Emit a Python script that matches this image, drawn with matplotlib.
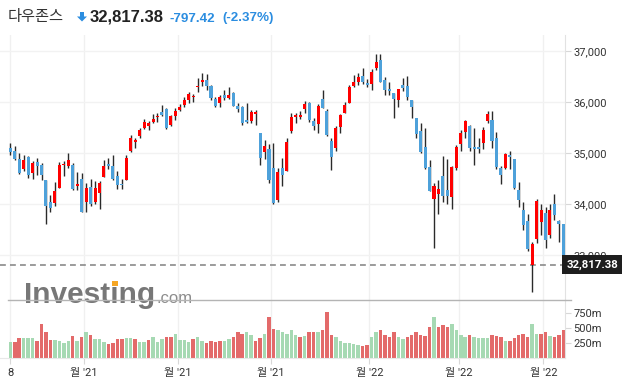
import numpy as np
import pandas as pd
import matplotlib
matplotlib.use("Agg")
import matplotlib.pyplot as plt
from matplotlib.patches import Polygon, Rectangle
from matplotlib.lines import Line2D

plt.rcParams['font.family'] = ['Roboto', 'Noto Sans CJK KR', 'DejaVu Sans']

# daily candles, 2021-09-08 .. 2022-03-07 (NYSE holidays skipped)
holidays = ["2021-11-25", "2021-12-24", "2022-01-17", "2022-02-21"]
days = pd.bdate_range("2021-09-08", "2022-03-07", freq="C", holidays=holidays)

opens = [35100, 35045, 34890, 34686, 34922, 34608, 34830, 34770, 34477, 34045,
         34031, 34325, 34771, 34751, 34770, 34365, 34490, 34039, 34345, 34039,
         34227, 34530, 34790, 34751, 34547, 34390, 34480, 35050, 35220, 35339,
         35502, 35541, 35620, 35718, 35816, 35863, 35555, 35731, 35849, 35947,
         36045, 36098, 36294, 36404, 36437, 36320, 36059, 35992, 36143, 36090,
         36188, 35927, 35914, 35653, 35633, 35776, 35398, 35032, 35084, 34718,
         34090, 34718, 34660, 35443, 35718, 35718, 35869, 35986, 35633, 35569,
         36065, 35829, 35241, 35098, 35522, 35796, 35980, 36326, 36398, 36516,
         36378, 36353, 36667, 36829, 36437, 36261, 36182, 36045, 36339, 36320,
         36045, 35692, 35437, 35118, 34725, 34098, 34208, 34555, 34280, 34150,
         34718, 35176, 35412, 35535, 35118, 35118, 35196, 35639, 35653, 35294,
         34706, 34706, 34967, 34888, 34280, 33888, 33667, 32810, 33313, 33659,
         33824, 33398, 34000, 33673, 33614]
highs = [35200, 35150, 35000, 34960, 34940, 34840, 34900, 34800, 34477, 34190,
         34430, 34820, 34840, 35000, 34800, 34640, 34620, 34420, 34490, 34450,
         34450, 34870, 34900, 34960, 34650, 34500, 34960, 35350, 35300, 35500,
         35670, 35640, 35770, 35800, 35950, 35890, 35760, 35890, 35960, 36100,
         36200, 36170, 36480, 36565, 36550, 36340, 36100, 36140, 36250, 36300,
         36200, 35990, 35920, 35990, 35850, 35840, 35398, 35260, 35180, 35200,
         34720, 34900, 35300, 35800, 35800, 35830, 36020, 36000, 35700, 35960,
         36250, 35860, 35300, 35530, 35780, 36000, 36330, 36530, 36570, 36680,
         36450, 36650, 36952, 36950, 36500, 36400, 36190, 36270, 36470, 36510,
         36050, 35692, 35600, 35500, 34870, 34420, 34470, 34950, 34880, 34750,
         35170, 35450, 35650, 35560, 35500, 35300, 35520, 35830, 35830, 35420,
         34750, 35000, 35040, 34888, 34440, 34050, 33800, 33260, 34100, 34000,
         33950, 34000, 34196, 33700, 33620]
lows = [34967, 34870, 34590, 34660, 34520, 34500, 34580, 34470, 33613, 33840,
        33960, 34325, 34560, 34720, 34280, 34280, 33840, 33850, 33960, 34000,
        33900, 34530, 34700, 34480, 34300, 34300, 34480, 35020, 35100, 35300,
        35480, 35450, 35600, 35620, 35740, 35480, 35540, 35650, 35830, 35900,
        35980, 36000, 36200, 36320, 36250, 36050, 35900, 35900, 36050, 36060,
        35920, 35810, 35550, 35600, 35600, 35550, 34770, 34880, 34420, 34006,
        34050, 34350, 34660, 35400, 35600, 35680, 35800, 35620, 35450, 35400,
        35880, 35330, 34680, 35050, 35400, 35790, 35980, 36300, 36340, 36360,
        36300, 36250, 36640, 36400, 36150, 36150, 35687, 35900, 36230, 36050,
        35700, 35300, 35000, 34690, 34260, 33150, 33800, 34050, 34000, 33900,
        34670, 35050, 35300, 35050, 34780, 35000, 35080, 35600, 35100, 34700,
        34400, 34700, 34700, 34300, 33950, 33500, 33080, 32272, 33250, 33400,
        33140, 33340, 33700, 33267, 32800]
closes = [35031, 34879, 34607, 34869, 34577, 34814, 34751, 34584, 33970, 33919,
          34258, 34765, 34798, 34869, 34299, 34390, 33844, 34326, 34002, 34315,
          34417, 34755, 34746, 34496, 34378, 34377, 34912, 35295, 35259, 35458,
          35609, 35603, 35677, 35741, 35757, 35491, 35731, 35820, 35913, 36053,
          36158, 36124, 36328, 36432, 36320, 36080, 35921, 36100, 36087, 36142,
          35931, 35871, 35602, 35619, 35814, 35804, 34899, 35136, 34484, 34022,
          34640, 34580, 35227, 35719, 35754, 35754, 35971, 35650, 35544, 35927,
          35898, 35365, 34932, 35493, 35754, 35950, 36302, 36398, 36488, 36398,
          36338, 36585, 36799, 36407, 36236, 36231, 36068, 36252, 36290, 36113,
          35912, 35369, 35029, 34715, 34265, 34365, 34298, 34168, 34160, 34725,
          35132, 35405, 35629, 35111, 35089, 35091, 35463, 35768, 35241, 34738,
          34566, 34989, 34935, 34312, 34079, 33597, 33132, 33224, 34058, 33893,
          33295, 33891, 33795, 33615, 32817.38]
# volume in millions
volumes = [260, 260, 326, 326, 326, 326, 283, 570, 440, 293,
           293, 283, 255, 283, 375, 283, 342, 430, 391, 310,
           310, 260, 228, 250, 310, 310, 326, 326, 310, 272,
           260, 293, 342, 260, 310, 358, 342, 408, 293, 293,
           260, 310, 342, 283, 245, 283, 260, 283, 283, 310,
           358, 430, 408, 430, 391, 283, 326, 408, 690, 490,
           473, 440, 408, 473, 380, 353, 364, 440, 440, 430,
           473, 766, 391, 342, 283, 245, 245, 234, 217, 201,
           217, 342, 430, 473, 391, 358, 440, 358, 310, 342,
           391, 430, 391, 375, 522, 690, 522, 554, 522, 570,
           473, 391, 353, 391, 342, 326, 326, 326, 391, 364,
           342, 283, 283, 326, 391, 408, 358, 570, 408, 408,
           430, 375, 342, 391, 473]
# bar colour as seen in the picture: r = red, g = green
vol_colors = ("grrgggrrrr" "ggggrgrgrg" "ggrrrrggrg" "grgggrrggg" "grggrrrrgg"
              "rrrggrrgrr" "gggggrgrrg" "rrrggggggr" "rggrrrrggr" "rrrrrgrrrg"
              "gggrggggrr" "rgrrrrrggr" "rgrrr")

tick_labels = ["8", "월 '21", "월 '21", "월 '21", "월 '22", "월 '22", "월 '22"]
change = -797.42
change_pct = -2.37

W, H = 633, 383
fig = plt.figure(figsize=(W / 100, H / 100), dpi=100)
fig.patch.set_facecolor('white')

def fx(px):
    return px / W

def fy(py):
    return 1 - py / H

ax = fig.add_axes([0, fy(300), fx(565), (300 - 35) / H])
axv = fig.add_axes([0, fy(358), fx(565), 58 / H])

n = len(closes)
x = np.arange(n)
o = np.array(opens, float)
c = np.array(closes, float)
hi = np.array(highs, float)
lo = np.array(lows, float)
up = c >= o

# tick positions: first day, then every month change
month_start = [i for i in range(1, n) if days[i].month != days[i - 1].month]
ticks = [0] + [i - 0.5 for i in month_start]

xl = (-2.31, 124.37)
for a in (ax, axv):
    a.set_xlim(*xl)
    a.set_facecolor('none')
    for s in ('top', 'left', 'bottom'):
        a.spines[s].set_visible(False)
    a.spines['right'].set_color('#e2e2e2')
    a.yaxis.tick_right()
    a.tick_params(axis='y', length=4, color='#d8d8d8', labelsize=8,
                  labelcolor='#333333', pad=2)
    a.set_xticks(ticks)
    for t in ticks:
        a.axvline(t, color='#f0f0f0', lw=1, zorder=0)

# price panel
ax.set_ylim(32123, 37320)
yt = [33000, 34000, 35000, 36000, 37000]
ax.set_yticks(yt)
ax.set_yticklabels([f"{v:,}" for v in yt])
for v in yt:
    ax.axhline(v, color='#f2f2f2', lw=1, zorder=0)
ax.tick_params(axis='x', length=0, labelbottom=False)

ax.vlines(x, lo, hi, color='#2a2a2a', lw=1.0, zorder=2)
ax.bar(x, np.maximum(np.abs(c - o), 18), bottom=np.minimum(o, c), width=0.68,
       color=np.where(up, '#ff0000', '#4ea1da'), zorder=3)

ax.axhline(c[-1], color='#8a8a8a', lw=1.2, ls=(0, (3.5, 2.5)), zorder=1.5)
ax.text(1.002, c[-1], f"{c[-1]:,.2f}", transform=ax.get_yaxis_transform(),
        ha='left', va='center', color='white', fontsize=8.2, fontweight='bold',
        bbox=dict(boxstyle='square,pad=0.35', fc='#1e1e1e', ec='none'),
        clip_on=False, zorder=10)

# volume panel
axv.set_ylim(0, 967)
axv.set_yticks([250, 500, 750])
axv.set_yticklabels(['250m', '500m', '750m'])
axv.bar(x, volumes, width=0.78,
        color=['#e36a6a' if k == 'r' else '#a6d9b3' for k in vol_colors], zorder=2)
axv.spines['bottom'].set_visible(True)
axv.spines['bottom'].set_color('#e8e8e8')
axv.set_xticklabels(tick_labels)
axv.tick_params(axis='x', length=4, color='#d8d8d8', labelsize=8,
                labelcolor='#333333', pad=3)

fig.add_artist(Line2D([fx(8), fx(571)], [fy(300), fy(300)], color='#b4b4b4', lw=1))

# header
base = fy(21.5)
fig.text(fx(8), base, '다우존스', fontsize=11, color='#333333',
         family=['Noto Sans CJK KR'], va='baseline')
arrow = [(80, 12), (84, 12), (84, 16.5), (87, 16.5), (82, 21.5), (77, 16.5), (80, 16.5)]
fig.add_artist(Polygon([(fx(a), fy(b)) for a, b in arrow], closed=True,
                       fc='#2b8de0', ec='none'))
fig.text(fx(90), base, f"{c[-1]:,.2f}", fontsize=12, fontweight='bold',
         color='#222222', family='Liberation Sans', va='baseline')
fig.text(fx(170), base, f"{change:,.2f}", fontsize=9.6, fontweight='bold',
         color='#2b8de0', family='Liberation Sans', va='baseline')
fig.text(fx(222), base, f"({change_pct:.2f}%)", fontsize=9.6, fontweight='bold',
         color='#2b8de0', family='Liberation Sans', va='baseline')

# watermark
wsize = 21.5
wm = fig.text(fx(24), fy(303), 'Investing', fontsize=wsize, fontweight='bold',
              color='#777777', family='Liberation Sans', va='baseline', zorder=0)
fig.canvas.draw()
r = fig.canvas.get_renderer()
bb = wm.get_window_extent(r)
fig.text(bb.x1 / W + 0.002, fy(303), '.com', fontsize=12, color='#8c8c8c',
         family='Liberation Sans', va='baseline', zorder=0)
pre = fig.text(fx(24), fy(303), 'Invest', fontsize=wsize, fontweight='bold',
               family='Liberation Sans', va='baseline', alpha=0)
bp = pre.get_window_extent(r)
em = wsize * 100 / 72
fig.add_artist(Rectangle((bp.x1 / W + 0.05 * em / W, (H - 303) / H + 0.57 * em / H),
                         0.2 * em / W, 0.17 * em / H, fc='#f6a623', ec='none'))

fig.savefig('out.png', dpi=100)
